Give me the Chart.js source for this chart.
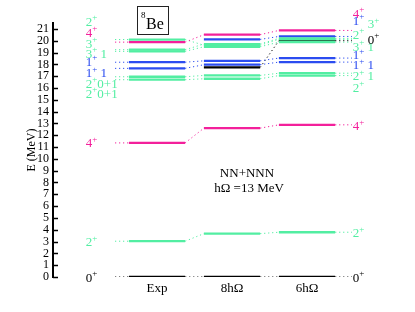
<!DOCTYPE html>
<html>
<head>
<meta charset="utf-8">
<script src="https://cdn.jsdelivr.net/npm/chart.js@4.4.1/dist/chart.umd.min.js"></script>
<style>
  html, body { margin: 0; padding: 0; background: #fff; }
  #wrap { width: 415px; height: 312px; position: relative; }
</style>
</head>
<body>
<div id="wrap"><canvas id="levels"></canvas></div>
<script>
// ---- data (MeV) ----
const columns = ['Exp', '8h\u03A9', '6h\u03A9'];

// one entry per state, same order in every array
const stateKind = ['0+', '2+', '4+', '2+ T0', '2+ T1', '1+ T1', '1+ T0', '3+ T1', '3+ T0', '4+ hi', '2+ hi', '0+ hi', '1+ hi'];
const expLevels = [0, 3.03, 11.35, 16.70, 16.95, 17.66, 18.18, 19.10, 19.24, 19.88, 20.10, null, null];
const nmax8Levels = [0, 3.67, 12.60, 16.78, 17.06, 17.97, 18.30, 19.49, 19.72, 20.51, 19.62, 17.74, 20.11];
const nmax6Levels = [0, 3.79, 12.88, 17.05, 17.25, 18.19, 18.53, 19.88, 20.20, 20.87, 20.12, 20.00, 20.36];

// level tags ("^+" = superscript plus), and the energy each tag sits at
const leftTags = ['0^+', '2^+', '4^+', '2^+0+1', '2^+0+1', '1^+ 1', '1^+', '3^+ 1', '3^+', '4^+', '2^+'];
const leftTagE = [0, 3.0, 11.35, 15.57, 16.41, 17.31, 18.25, 18.96, 19.8, 20.7, 21.64];
const rightTags = ['0^+', '2^+', '4^+', '2^+', '2^+ 1', '1^+ 1', '1^+', '3^+ 1', '3^+', '4^+', '2^+', '0^+', '1^+'];
const rightTagE = [0, 3.73, 12.82, 16.07, 17.03, 17.97, 18.81, 19.52, 21.44, 22.34, 20.56, 20.14, 21.72];

const yTicks = [0, 1, 2, 3, 4, 5, 6, 7, 8, 9, 10, 11, 12, 13, 14, 15, 16, 17, 18, 19, 20, 21];

// ---- style ----
const GREEN = '#52eea2';
const PINK = '#f3209b';
const BLUE = '#2b4cf0';
const BLACK = '#000000';
const colorOf = k => k.startsWith('0') ? BLACK : k.startsWith('1') ? BLUE : k.startsWith('4') ? PINK : GREEN;
const SERIF = "'Liberation Serif', 'Times New Roman', serif";

const HALF = 0.375;        // half width of a level bar, in column units
const LEAD_L = -0.56;      // start of the dotted lead into Exp
const LEAD_R = 2.6;        // end of the dotted lead out of 6hΩ
const TAG_L = -0.95;
const TAG_R = 2.61;
const rightIndent = [0, 0, 0, 0, 0, 0, 0, 0, 1, 0, 0, 1, 0];

// ---- datasets ----
const cols = [expLevels, nmax8Levels, nmax6Levels];
const dotted = [];
const solid = [];
const dots = (color, pts) => ({ data: pts, borderColor: color, borderWidth: 1, borderDash: [1.2, 2.8], pointRadius: 0, fill: false });

stateKind.forEach((kind, s) => {
  const color = colorOf(kind);
  cols.forEach((lv, c) => {
    const e = lv[s];
    if (e == null) return;
    solid.push({ data: [{ x: c - HALF, y: e }, { x: c + HALF, y: e }], borderColor: color, borderWidth: 2.3, pointRadius: 0, fill: false });
    const next = cols[c + 1];
    if (next && next[s] != null) dotted.push(dots(color, [{ x: c + HALF, y: e }, { x: c + 1 - HALF, y: next[s] }]));
  });
  if (expLevels[s] != null) dotted.push(dots(color, [{ x: LEAD_L, y: expLevels[s] }, { x: -HALF, y: expLevels[s] }]));
  if (nmax6Levels[s] != null) dotted.push(dots(color, [{ x: 2 + HALF, y: nmax6Levels[s] }, { x: LEAD_R, y: nmax6Levels[s] }]));
});

// ---- drawing helpers ----
const drawTag = (ctx, text, x, y, color) => {
  const [base, rest] = text.split('^+');
  ctx.fillStyle = color;
  ctx.textBaseline = 'alphabetic';
  ctx.textAlign = 'left';
  ctx.font = `13px ${SERIF}`;
  ctx.fillText(base, x, y + 4.5);
  let cx = x + ctx.measureText(base).width;
  ctx.font = `9px ${SERIF}`;
  ctx.fillText('+', cx, y - 1);
  cx += ctx.measureText('+').width;
  if (rest) {
    ctx.font = `13px ${SERIF}`;
    ctx.fillText(rest, cx, y + 4.5);
  }
};

const extras = {
  id: 'extras',
  afterDraw(chart) {
    const { ctx, scales: { x, y } } = chart;
    ctx.save();
    // inward tick marks
    ctx.strokeStyle = BLACK;
    ctx.lineWidth = 1.5;
    const ax = x.left;
    yTicks.forEach(v => {
      const py = Math.round(y.getPixelForValue(v)) + 0.5;
      ctx.beginPath();
      ctx.moveTo(ax, py);
      ctx.lineTo(ax + 5, py);
      ctx.stroke();
    });
    // level tags
    leftTags.forEach((t, i) => drawTag(ctx, t, x.getPixelForValue(TAG_L), y.getPixelForValue(leftTagE[i]), colorOf(stateKind[i])));
    rightTags.forEach((t, i) => drawTag(ctx, t, x.getPixelForValue(TAG_R + rightIndent[i] * 0.2), y.getPixelForValue(rightTagE[i]), colorOf(stateKind[i])));
    // nucleus box
    ctx.lineWidth = 1;
    ctx.strokeStyle = '#222';
    ctx.strokeRect(137.5, 6.5, 31, 28);
    ctx.fillStyle = BLACK;
    ctx.font = `9px ${SERIF}`;
    ctx.fillText('8', 141, 18);
    ctx.font = `16px ${SERIF}`;
    ctx.fillText('Be', 146, 29);
    // interaction note
    ctx.textAlign = 'center';
    ctx.font = `13px ${SERIF}`;
    ctx.fillText('NN+NNN', 247, 177);
    ctx.fillText('h\u03A9 =13 MeV', 249, 192);
    ctx.restore();
  }
};

new Chart(document.getElementById('levels'), {
  type: 'line',
  data: { datasets: [...dotted, ...solid] },
  options: {
    responsive: true,
    maintainAspectRatio: false,
    animation: false,
    layout: { padding: { left: 20, top: 23, right: 0, bottom: 0 } },
    plugins: { legend: { display: false }, tooltip: { enabled: false } },
    scales: {
      x: {
        type: 'linear',
        min: -1.387,
        max: 3.44,
        grid: { display: false, drawTicks: false },
        border: { display: false },
        afterBuildTicks: s => { s.ticks = columns.map((_, i) => ({ value: i })); },
        afterFit: s => { s.height = 35; },
        ticks: { color: BLACK, padding: 4, autoSkip: false, font: { family: SERIF, size: 13 }, callback: v => columns[v] ?? '' }
      },
      y: {
        min: 0,
        max: 21.5,
        grid: { display: false, drawTicks: false },
        border: { display: true, color: BLACK, width: 2 },
        afterBuildTicks: s => { s.ticks = yTicks.map(v => ({ value: v })); },
        afterFit: s => { s.width = 33; },
        ticks: { color: BLACK, padding: 4, autoSkip: false, font: { family: SERIF, size: 12 } },
        title: { display: true, text: 'E (MeV)', color: BLACK, padding: { top: 5, bottom: 0 }, font: { family: SERIF, size: 12 } }
      }
    }
  },
  plugins: [extras]
});
</script>
</body>
</html>
